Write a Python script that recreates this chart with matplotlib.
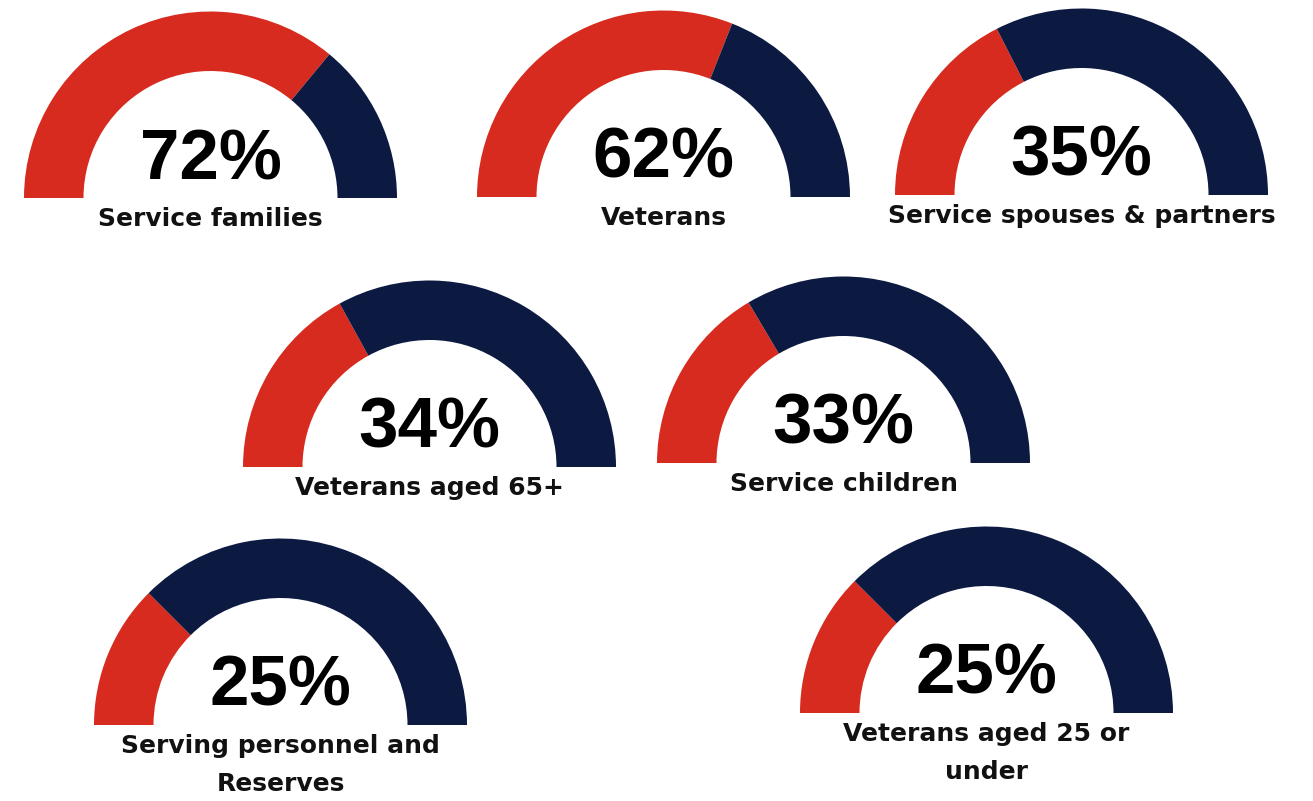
import matplotlib
matplotlib.use("Agg")
import matplotlib.pyplot as plt
from matplotlib.patches import Wedge

# share of each group
groups = ["Service families", "Veterans", "Service spouses & partners",
          "Veterans aged 65+", "Service children",
          "Serving personnel and\nReserves", "Veterans aged 25 or\nunder"]
shares = [72, 62, 35, 34, 33, 25, 25]

# gauge centres (x, baseline y) in pixels from the top-left corner
centres = [(210.5, 198), (663.5, 197), (1081.5, 195),
           (429.5, 467), (843.5, 463),
           (280.5, 725), (986.5, 713)]

W, H = 1313, 801
R_OUT, RING = 186.5, 59.5
RED, NAVY = "#D62B1E", "#0C1A42"

fig = plt.figure(figsize=(W / 100, H / 100), dpi=100)
ax = fig.add_axes([0, 0, 1, 1])
ax.set_xlim(0, W)
ax.set_ylim(0, H)
ax.set_aspect("equal")
ax.axis("off")

for name, p, (cx, cy) in zip(groups, shares, centres):
    y = H - cy
    split = 180 - 180 * p / 100
    ax.add_patch(Wedge((cx, y), R_OUT, split, 180, width=RING,
                       facecolor=RED, edgecolor="none"))
    ax.add_patch(Wedge((cx, y), R_OUT, 0, split, width=RING,
                       facecolor=NAVY, edgecolor="none"))
    ax.text(cx, y + 19, f"{p}%", ha="center", va="baseline",
            fontsize=51, fontweight="bold", family="Liberation Sans",
            color="black")
    for i, line in enumerate(name.split("\n")):
        ax.text(cx, y - 28 - 38 * i, line, ha="center", va="baseline",
                fontsize=18, fontweight="bold", family="DejaVu Sans",
                color="#111111")

fig.savefig("out.png", dpi=100, facecolor="white")
